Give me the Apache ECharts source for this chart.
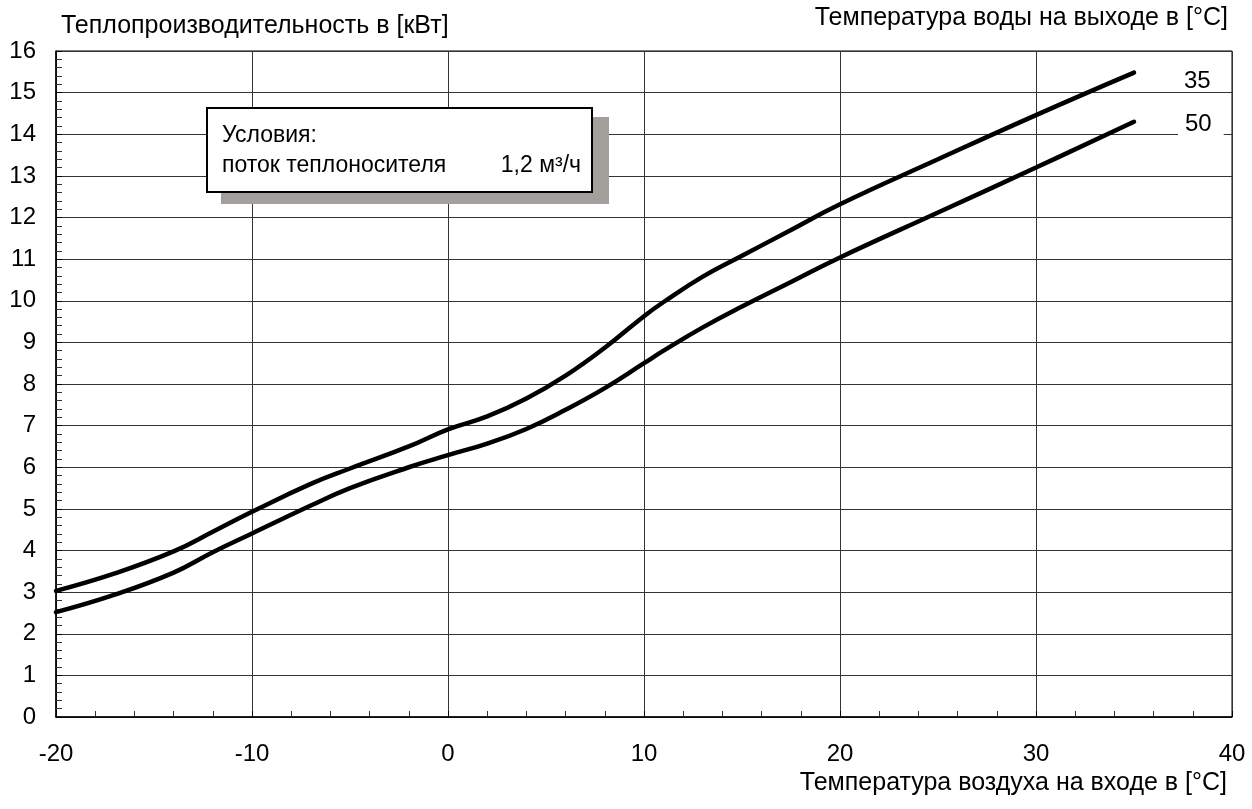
<!DOCTYPE html>
<html lang="ru">
<head>
    <meta charset="UTF-8">
    <title>Теплопроизводительность</title>
    <script src="https://cdn.jsdelivr.net/npm/echarts@6/dist/echarts.min.js"></script>
    <style>
        html, body { margin: 0; padding: 0; background: #fff; }
        #chart { width: 1252px; height: 809px; }
    </style>
</head>
<body>
<div id="chart"></div>
<script>
    // температура воздуха на входе, °C
    var airTemp = [-20, -17, -14, -12, -10, -7, -5, -2, 0, 2, 4, 6, 8, 10, 11, 13, 15, 17.5, 20, 25, 30, 35];
    // теплопроизводительность, кВт
    var heat35 = [3.03, 3.45, 3.98, 4.45, 4.93, 5.6, 5.97, 6.5, 6.91, 7.22, 7.65, 8.2, 8.87, 9.63, 9.97, 10.58, 11.08, 11.7, 12.32, 13.4, 14.46, 15.48];
    var heat50 = [2.52, 2.94, 3.47, 3.96, 4.41, 5.08, 5.5, 6.0, 6.29, 6.57, 6.92, 7.38, 7.9, 8.5, 8.8, 9.36, 9.86, 10.45, 11.04, 12.12, 13.2, 14.3];
    var xTicks = [-20, -10, 0, 10, 20, 30, 40];
    var yTicks = [0, 16];

    function pairs(ys) {
        return airTemp.map(function (x, i) { return [x, ys[i]]; });
    }

    var font = 'Liberation Sans, Arial, sans-serif';
    var myChart = echarts.init(document.getElementById('chart'));
    myChart.setOption({
        animation: false,
        textStyle: { fontFamily: font, color: '#000' },
        title: [
            { text: 'Теплопроизводительность в [кВт]', left: 61, top: 14, padding: 0,
              textStyle: { fontSize: 25, fontWeight: 'normal', color: '#000', fontFamily: font } },
            { text: 'Температура воды на выходе в [°C]', right: 24, top: 6, padding: 0,
              textStyle: { fontSize: 25, fontWeight: 'normal', color: '#000', fontFamily: font } },
            { text: 'Температура воздуха на входе в [°C]', right: 25, top: 771, padding: 0,
              textStyle: { fontSize: 25, fontWeight: 'normal', color: '#000', fontFamily: font } }
        ],
        grid: { left: 56, right: 20, top: 51, bottom: 92, show: true, borderColor: '#000', borderWidth: 1 },
        xAxis: {
            type: 'value', min: xTicks[0], max: xTicks[xTicks.length - 1], interval: 10,
            axisLine: { onZero: false, lineStyle: { color: '#000', width: 1.5 } },
            axisTick: { show: true, inside: true, length: 6, lineStyle: { color: '#000' } },
            minorTick: { show: true, splitNumber: 5, length: 6, lineStyle: { color: '#333' } },
            axisLabel: { fontSize: 24, color: '#000', margin: 25, fontFamily: font },
            splitLine: { show: true, lineStyle: { color: '#333', width: 1 } }
        },
        yAxis: {
            type: 'value', min: yTicks[0], max: yTicks[1], interval: 1,
            axisLine: { show: true, onZero: false, lineStyle: { color: '#000', width: 1.5 } },
            axisTick: { show: true, inside: true, length: 6, lineStyle: { color: '#000' } },
            minorTick: { show: true, splitNumber: 5, length: 6, lineStyle: { color: '#333' } },
            axisLabel: { fontSize: 24, color: '#000', margin: 20, fontFamily: font },
            splitLine: { show: true, lineStyle: { color: '#333', width: 1 } }
        },
        series: [
            {
                name: '35', type: 'line', data: pairs(heat35), smooth: 0.45, symbol: 'none',
                lineStyle: { color: '#000', width: 4.5, cap: 'round' },
                endLabel: { show: true, formatter: '{a}', distance: 0, offset: [50, 9],
                            fontSize: 24, color: '#000', fontFamily: font }
            },
            {
                name: '50', type: 'line', data: pairs(heat50), smooth: 0.45, symbol: 'none',
                lineStyle: { color: '#000', width: 4.5, cap: 'round' },
                endLabel: { show: true, formatter: '{a}', distance: 0, offset: [44, 3],
                            fontSize: 24, color: '#000', fontFamily: font,
                            backgroundColor: '#fff', padding: [3, 12, 5, 7] }
            }
        ],
        graphic: [
            { type: 'rect', shape: { x: 221, y: 117, width: 388, height: 87 },
              style: { fill: '#a39f9b' }, z: 10 },
            { type: 'rect', shape: { x: 207, y: 108, width: 385, height: 84 },
              style: { fill: '#fff', stroke: '#000', lineWidth: 2 }, z: 11 },
            { type: 'text', x: 222, y: 136, z: 12,
              style: { text: 'Условия:', font: '23px ' + font, fill: '#000', verticalAlign: 'middle' } },
            { type: 'text', x: 222, y: 166, z: 12,
              style: { text: 'поток теплоносителя', font: '23px ' + font, fill: '#000', verticalAlign: 'middle' } },
            { type: 'text', x: 581, y: 166, z: 12,
              style: { text: '1,2 м³/ч', font: '23px ' + font, fill: '#000', align: 'right', verticalAlign: 'middle' } }
        ]
    });
</script>
</body>
</html>
